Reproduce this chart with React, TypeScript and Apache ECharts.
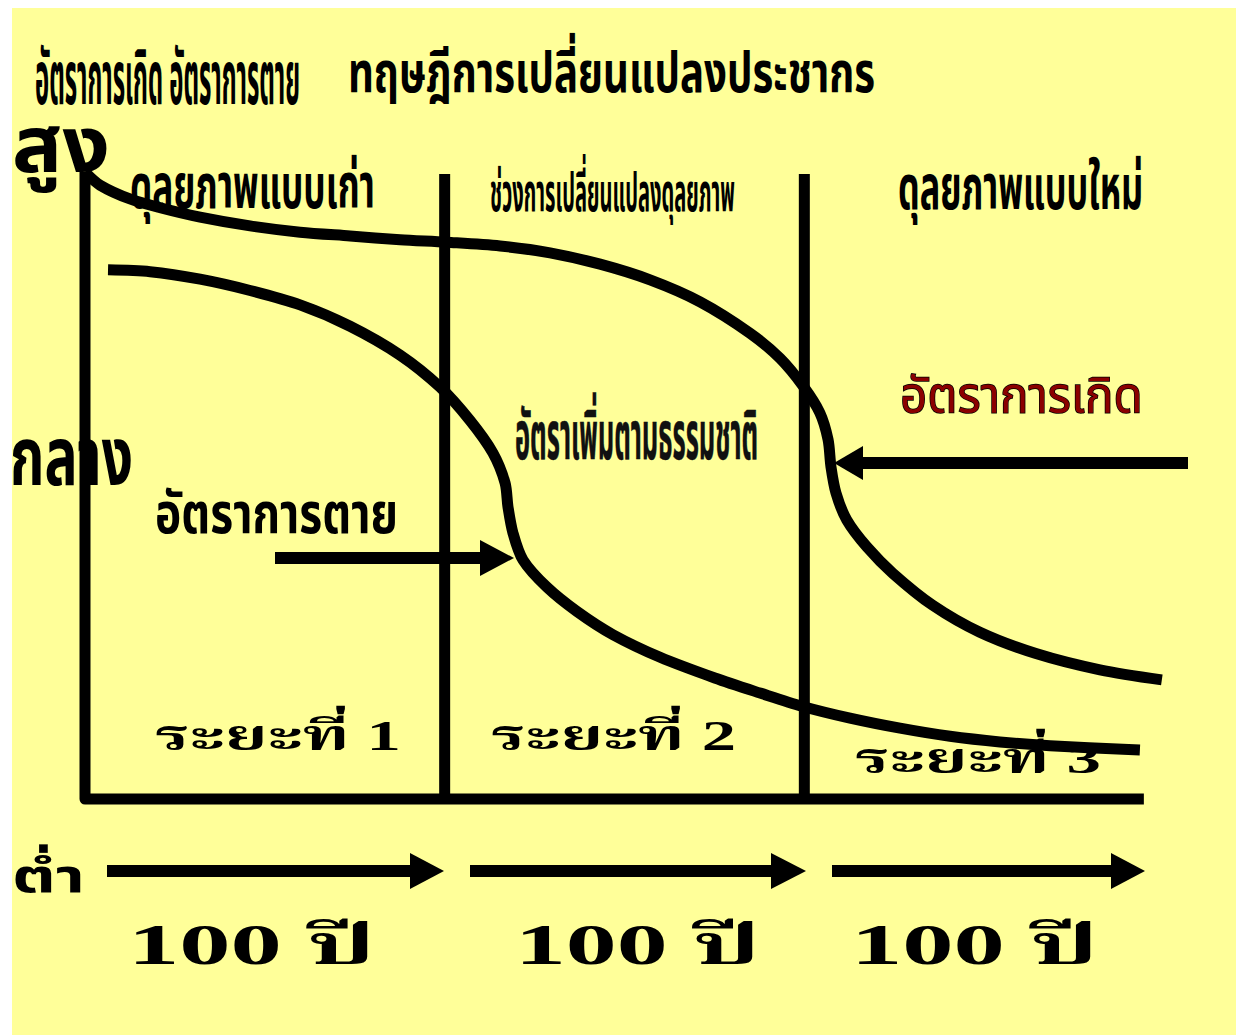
import React, { useEffect, useRef } from "react";
import * as echarts from "echarts";

// ---- data (years since start of transition, rate on a 0-100 relative scale) ----
const yearMax = 300;
const rateMax = 100;
const phaseBoundaries = [100, 200];
const axisFrame: [number, number][] = [
  [0, 100],
  [0, 0],
  [294.4, 0],
];
const birthRate: [number, number][] = [
  [0, 100],
  [4.2, 97.9],
  [12.5, 95.7],
  [20.9, 94.3],
  [32.0, 92.8],
  [45.9, 91.4],
  [59.8, 90.4],
  [73.7, 89.8],
  [87.6, 89.2],
  [100.6, 88.8],
  [115.4, 88.2],
  [129.3, 87.1],
  [143.2, 85.3],
  [157.1, 82.8],
  [171.0, 79.3],
  [184.9, 74.3],
  [193.2, 70.3],
  [199.6, 65.9],
  [204.3, 61.6],
  [206.6, 57.3],
  [207.4, 53.0],
  [208.8, 48.8],
  [211.8, 44.5],
  [217.4, 40.2],
  [224.6, 36.0],
  [235.7, 30.9],
  [248.8, 26.6],
  [264.4, 23.2],
  [282.2, 20.6],
  [299.4, 19.0],
];
const deathRate: [number, number][] = [
  [6.4, 84.4],
  [18.1, 84.1],
  [32.0, 82.9],
  [45.9, 81.1],
  [59.8, 78.8],
  [73.7, 75.4],
  [87.6, 70.8],
  [98.7, 65.7],
  [107.0, 60.4],
  [113.4, 55.2],
  [116.8, 50.4],
  [117.6, 46.6],
  [119.0, 42.4],
  [121.8, 38.1],
  [128.4, 33.8],
  [136.8, 29.9],
  [146.8, 26.2],
  [159.9, 22.6],
  [175.1, 19.3],
  [187.7, 16.9],
  [199.3, 14.8],
  [212.7, 12.9],
  [226.6, 11.3],
  [240.5, 10.0],
  [254.4, 9.1],
  [268.3, 8.5],
  [293.3, 7.8],
];

const titleParts = ["อัตราการเกิด อัตราการตาย", "ทฤษฎีการเปลี่ยนแปลงประชากร"];
const levelLabels = ["สูง", "กลาง", "ต่ำ"];
const phaseTitles = ["ดุลยภาพแบบเก่า", "ช่วงการเปลี่ยนแปลงดุลยภาพ", "ดุลยภาพแบบใหม่"];
const curveLabels = ["อัตราการเกิด", "อัตราการตาย", "อัตราเพิ่มตามธรรมชาติ"];
const stageLabels = ["ระยะที่ 1", "ระยะที่ 2", "ระยะที่ 3"];
const durationLabels = ["100 ปี", "100 ปี", "100 ปี"];

const THAI =
  '"Noto Sans Thai", "Noto Sans Thai UI", "Loma", "Garuda", "Laksaman", "Noto Sans", "DejaVu Sans", sans-serif';
const THAI_SERIF =
  '"Liberation Serif", "DejaVu Serif", "Noto Serif Thai", "Norasi", "Kinnari", serif';

type TextSpec = {
  text: string;
  left: number;
  right: number;
  cy: number;
  size: number;
  family: string;
  weight?: string;
  fill?: string;
  stroke?: string;
  lineWidth?: number;
};

let measureCtx: CanvasRenderingContext2D | null = null;
function measure(text: string, font: string): number {
  if (!measureCtx) measureCtx = document.createElement("canvas").getContext("2d");
  if (!measureCtx) return 100;
  measureCtx.font = font;
  return measureCtx.measureText(text).width || 100;
}

function textEl(s: TextSpec) {
  const font = `${s.weight || "bold"} ${s.size}px ${s.family}`;
  const w = measure(s.text, font);
  return {
    type: "text",
    x: s.left,
    y: s.cy,
    scaleX: (s.right - s.left) / w,
    z: 50,
    style: {
      text: s.text,
      font,
      fill: s.fill || "#000",
      stroke: s.stroke,
      lineWidth: s.lineWidth || 0,
      textAlign: "left",
      textVerticalAlign: "middle",
    },
  };
}

function arrowEls(from: number, headBase: number, tip: number, cy: number, half: number) {
  const x0 = Math.min(from, headBase);
  const x1 = Math.max(from, headBase);
  return [
    { type: "rect", z: 40, shape: { x: x0, y: cy - 6, width: x1 - x0, height: 12 }, style: { fill: "#000" } },
    {
      type: "polygon",
      z: 40,
      shape: { points: [[headBase, cy - half], [tip, cy], [headBase, cy + half]] },
      style: { fill: "#000" },
    },
  ];
}

export default function App() {
  const ref = useRef<HTMLDivElement>(null);
  useEffect(() => {
    document.body.style.margin = "0";
    if (!ref.current) return;
    const chart = echarts.init(ref.current, undefined, { renderer: "svg" });

    const texts: TextSpec[] = [
      { text: titleParts[0], left: 35, right: 300, cy: 82, size: 74, family: THAI },
      { text: titleParts[1], left: 348, right: 875, cy: 75, size: 57, family: THAI },
      { text: levelLabels[0], left: 12, right: 110, cy: 148, size: 78, family: THAI },
      { text: levelLabels[1], left: 10, right: 133, cy: 460, size: 82, family: THAI },
      { text: levelLabels[2], left: 12, right: 85, cy: 878, size: 46, family: THAI },
      { text: phaseTitles[0], left: 130, right: 375, cy: 190, size: 62, family: THAI },
      { text: phaseTitles[1], left: 490, right: 735, cy: 194, size: 54, family: THAI },
      { text: phaseTitles[2], left: 898, right: 1143, cy: 190, size: 62, family: THAI },
      {
        text: curveLabels[0], left: 900, right: 1143, cy: 398, size: 50, family: THAI,
        weight: "normal", fill: "#8B0000", stroke: "#000", lineWidth: 1.5,
      },
      { text: curveLabels[1], left: 155, right: 398, cy: 516, size: 56, family: THAI },
      { text: curveLabels[2], left: 515, right: 758, cy: 438, size: 68, family: THAI, fill: "#111", stroke: "#000", lineWidth: 0.5 },
      { text: stageLabels[0], left: 155, right: 401, cy: 736, size: 42, family: THAI_SERIF },
      { text: stageLabels[1], left: 491, right: 736, cy: 736, size: 42, family: THAI_SERIF },
      { text: stageLabels[2], left: 855, right: 1101, cy: 759, size: 42, family: THAI_SERIF },
      { text: durationLabels[0], left: 128, right: 375, cy: 945, size: 56, family: THAI_SERIF },
      { text: durationLabels[1], left: 515, right: 760, cy: 945, size: 56, family: THAI_SERIF },
      { text: durationLabels[2], left: 851, right: 1098, cy: 945, size: 56, family: THAI_SERIF },
    ];

    const graphics: any[] = [
      { type: "rect", z: -10, shape: { x: 12, y: 8, width: 1224, height: 1027 }, style: { fill: "#FFFF99" } },
      ...texts.map(textEl),
      ...arrowEls(275, 480, 514, 558, 18),
      ...arrowEls(1188, 863, 834, 463, 17),
      ...arrowEls(107, 410, 444, 871, 18),
      ...arrowEls(470, 771, 806, 871, 18),
      ...arrowEls(832, 1111, 1145, 871, 18),
    ];

    const lineBase = {
      type: "line",
      symbol: "none",
      clip: false,
      silent: true,
      z: 5,
    };

    chart.setOption({
      animation: false,
      backgroundColor: "#ffffff",
      grid: { left: 85, right: 78, top: 172, bottom: 236 },
      xAxis: { type: "value", min: 0, max: yearMax, show: false },
      yAxis: { type: "value", min: 0, max: rateMax, show: false },
      graphic: { elements: graphics },
      series: [
        { ...lineBase, name: "frame", data: axisFrame, lineStyle: { color: "#000", width: 11, join: "round" } },
        ...phaseBoundaries.map((b) => ({
          ...lineBase,
          name: "phase" + b,
          data: [
            [b, 0],
            [b, 99.7],
          ],
          lineStyle: { color: "#000", width: 11 },
        })),
        { ...lineBase, name: "birth", data: birthRate, smooth: 0.3, lineStyle: { color: "#000", width: 11, join: "round" } },
        { ...lineBase, name: "death", data: deathRate, smooth: 0.3, lineStyle: { color: "#000", width: 11, join: "round" } },
      ],
    });
    return () => chart.dispose();
  }, []);
  return <div ref={ref} style={{ width: 1242, height: 1035 }} />;
}
